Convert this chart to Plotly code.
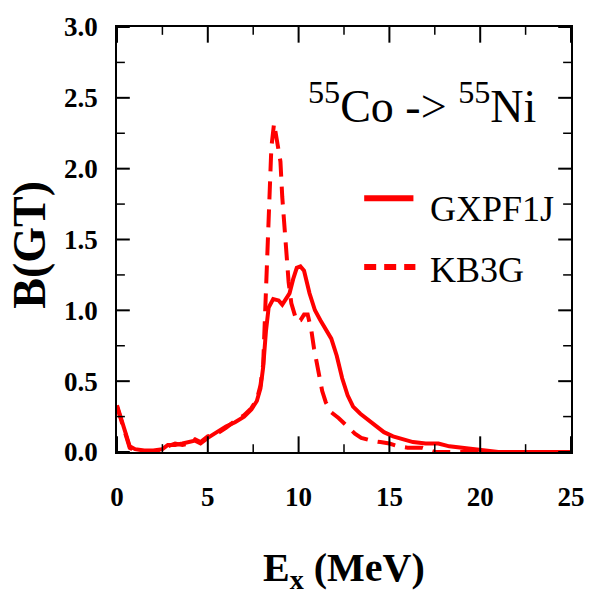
import plotly.graph_objects as go

# Gamow-Teller strength distributions, 55Co -> 55Ni
series_names = ["GXPF1J", "KB3G"]

gxpf1j_ex = [0.0, 0.15, 0.4, 0.7, 1.0, 1.5, 2.0, 2.5, 2.8, 3.2, 3.6, 4.0, 4.3, 4.6,
             5.0, 5.5, 6.0, 6.5, 7.0, 7.4, 7.7, 7.9, 8.05, 8.2, 8.35, 8.6, 8.9, 9.1,
             9.3, 9.5, 9.7, 9.9, 10.1, 10.3, 10.6, 10.9, 11.2, 11.5, 11.8, 12.1,
             12.4, 12.7, 13.0, 13.4, 13.8, 14.2, 14.7, 15.2, 15.7, 16.3, 17.0, 17.7,
             18.3, 18.9, 19.5, 20.0, 21.0, 22.0, 23.0, 24.0, 25.0]
gxpf1j_bgt = [0.33, 0.27, 0.15, 0.04, 0.02, 0.01, 0.01, 0.02, 0.05, 0.05, 0.06, 0.07, 0.08, 0.06,
              0.10, 0.14, 0.18, 0.21, 0.25, 0.30, 0.36, 0.45, 0.60, 0.85, 1.02, 1.08, 1.07, 1.04,
              1.08, 1.12, 1.22, 1.30, 1.31, 1.28, 1.12, 1.00, 0.93, 0.87, 0.80, 0.68,
              0.52, 0.40, 0.32, 0.27, 0.23, 0.19, 0.14, 0.11, 0.09, 0.07, 0.06, 0.06,
              0.04, 0.03, 0.02, 0.01, 0.0, 0.0, 0.0, 0.0, 0.0]

kb3g_ex = [0.0, 0.15, 0.4, 0.7, 1.0, 1.5, 2.0, 2.5, 2.8, 3.2, 3.6, 4.0, 4.3, 4.6,
           5.0, 5.5, 6.0, 6.5, 7.0, 7.4, 7.7, 7.9, 8.05, 8.2, 8.3, 8.4, 8.5, 8.65,
           8.85, 9.0, 9.1, 9.2, 9.35, 9.45, 9.6, 9.9, 10.1, 10.3, 10.5, 10.7, 10.85,
           11.0, 11.15, 11.3, 11.5, 11.8, 12.2, 12.5, 12.8, 13.1, 13.45, 14.0, 14.5,
           15.0, 15.5, 16.0, 16.8, 17.5, 19.0, 21.0, 23.0, 25.0]
kb3g_bgt = [0.32, 0.26, 0.14, 0.03, 0.01, 0.0, 0.0, 0.01, 0.04, 0.06, 0.05, 0.06, 0.09, 0.07,
            0.11, 0.13, 0.17, 0.22, 0.26, 0.31, 0.37, 0.47, 0.62, 1.20, 1.50, 1.95, 2.15, 2.32,
            2.15, 2.05, 1.80, 1.60, 1.40, 1.20, 1.05, 0.92, 0.93, 0.97, 0.97, 0.86, 0.73,
            0.62, 0.52, 0.43, 0.35, 0.28, 0.24, 0.20, 0.17, 0.13, 0.10, 0.08, 0.07,
            0.06, 0.04, 0.03, 0.03, 0.0, 0.0, 0.0, 0.0, 0.0]

x_ticks = [0, 5, 10, 15, 20, 25]
x_minor_ticks = [2.5, 7.5, 12.5, 17.5, 22.5]
y_ticks = [0.0, 0.5, 1.0, 1.5, 2.0, 2.5, 3.0]
y_minor_ticks = [0.25, 0.75, 1.25, 1.75, 2.25, 2.75]
y_tick_text = ["0.0", "0.5", "1.0", "1.5", "2.0", "2.5", "3.0"]

X_RANGE = [0, 25]
Y_RANGE = [0, 3]

RED = "#ff0000"
SERIF = "Liberation Serif"

fig = go.Figure()
fig.add_trace(go.Scatter(x=gxpf1j_ex, y=gxpf1j_bgt, mode="lines", name=series_names[0],
                         line=dict(color=RED, width=4)))
fig.add_trace(go.Scatter(x=kb3g_ex, y=kb3g_bgt, mode="lines", name=series_names[1],
                         line=dict(color=RED, width=4, dash="18px,10px")))

tick_font = dict(family=SERIF, size=27, color="black", weight="bold")

L, R, T, B = 117, 19, 18, 149
W, H = 597, 601
pw, ph = W - L - R, H - T - B

# pixels -> data units, used to give the frame ticks a fixed on-screen length
x_per_px = (X_RANGE[1] - X_RANGE[0]) / pw
y_per_px = (Y_RANGE[1] - Y_RANGE[0]) / ph


def px(xp):
    return (xp - L) / pw


def py(yp):
    return (H - B - yp) / ph


annotations = [
    dict(text="<sup>55</sup>Co -&gt; <sup>55</sup>Ni", x=px(427), y=py(96),
         font=dict(family=SERIF, size=46, color="black")),
    dict(text=series_names[0], x=px(433), y=py(204), xanchor="left",
         font=dict(family=SERIF, size=36, color="black")),
    dict(text=series_names[1], x=px(433), y=py(266), xanchor="left",
         font=dict(family=SERIF, size=36, color="black")),
    dict(text="<b>B(GT)</b>", x=px(28), y=py(240), textangle=-90,
         font=dict(family=SERIF, size=46, color="black")),
    dict(text="<b>E<sub>x</sub> (MeV)</b>", x=px(347), y=py(572),
         font=dict(family=SERIF, size=40, color="black")),
]
for a in annotations:
    a.setdefault("xanchor", "center")
    a.update(xref="paper", yref="paper", yanchor="middle", showarrow=False)

# legend samples
shapes = [
    dict(type="line", xref="paper", yref="paper", x0=px(368), x1=px(418),
         y0=py(193), y1=py(193), line=dict(color=RED, width=6)),
    dict(type="line", xref="paper", yref="paper", x0=px(368), x1=px(420),
         y0=py(263), y1=py(263), line=dict(color=RED, width=6, dash="12px,8px")),
]


# inward-pointing ticks on all four sides of the frame
def x_tick_marks(values, length_px, width):
    d = length_px * y_per_px
    out = []
    for v in values:
        for base, sign in ((Y_RANGE[0], 1), (Y_RANGE[1], -1)):
            out.append(dict(type="line", xref="x", yref="y", x0=v, x1=v,
                            y0=base, y1=base + sign * d,
                            line=dict(color="black", width=width), layer="above"))
    return out


def y_tick_marks(values, length_px, width):
    d = length_px * x_per_px
    out = []
    for v in values:
        for base, sign in ((X_RANGE[0], 1), (X_RANGE[1], -1)):
            out.append(dict(type="line", xref="x", yref="y", y0=v, y1=v,
                            x0=base, x1=base + sign * d,
                            line=dict(color="black", width=width), layer="above"))
    return out


shapes += x_tick_marks(x_ticks, 16, 2) + x_tick_marks(x_minor_ticks, 8, 1.5)
shapes += y_tick_marks(y_ticks, 13, 2) + y_tick_marks(y_minor_ticks, 8, 1.5)

fig.update_layout(
    width=W, height=H, margin=dict(l=L, r=R, t=T, b=B, pad=0),
    plot_bgcolor="white", paper_bgcolor="white", showlegend=False,
    annotations=annotations, shapes=shapes,
    xaxis=dict(range=X_RANGE, tickmode="array", tickvals=x_ticks, ticks="",
               showline=True, linecolor="black", linewidth=1.5, mirror=True,
               showgrid=False, zeroline=False, tickfont=tick_font,
               ticklabelstandoff=20, layer="below traces"),
    yaxis=dict(range=Y_RANGE, tickmode="array", tickvals=y_ticks, ticktext=y_tick_text,
               ticks="", showline=True, linecolor="black", linewidth=1.5, mirror=True,
               showgrid=False, zeroline=False, tickfont=tick_font,
               ticklabelstandoff=12, layer="below traces"),
)

fig.write_html("out.html")
